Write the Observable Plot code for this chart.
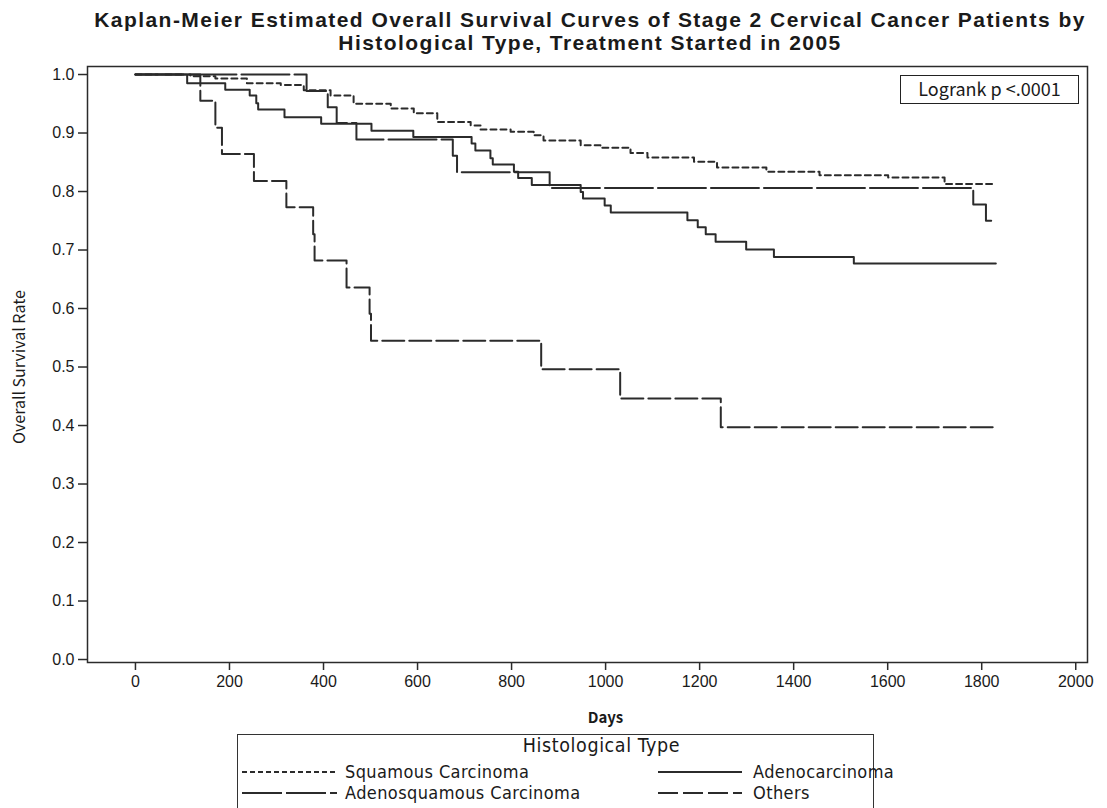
<!DOCTYPE html>
<html>
<head>
<meta charset="utf-8">
<script src="https://cdn.jsdelivr.net/npm/d3@7"></script>
<script src="https://cdn.jsdelivr.net/npm/@observablehq/plot@0.6"></script>
<style>
  html, body { margin: 0; padding: 0; background: #fff; }
  body { width: 1107px; height: 808px; overflow: hidden; position: relative; color: #1a1a1a; }
  #title { position: absolute; top: 8px; left: 73px; width: 1034px; text-align: center;
           font-family: "Liberation Sans", Arial, sans-serif; font-weight: bold; font-size: 21px;
           line-height: 23px; letter-spacing: 1.45px; }
  #chart { position: absolute; top: 58px; left: 0; }
  #ylabel { position: absolute; left: 18px; top: 367px; transform: translate(-50%, -50%) rotate(-90deg);
            white-space: nowrap; font-family: "Noto Sans CJK JP", "Noto Sans", sans-serif; font-size: 16px; line-height: 18px; }
  #logrank { position: absolute; left: 900px; top: 75px; width: 179px; height: 29px; box-sizing: border-box;
             border: 1.5px solid #222; font-family: "Noto Sans CJK JP", "Noto Sans", sans-serif;
             font-size: 18px; line-height: 25px; text-align: center; }
  #legend { position: absolute; left: 237px; top: 734px; width: 637px; height: 90px; box-sizing: border-box;
            border: 1.5px solid #333; font-family: "DejaVu Sans Condensed", "DejaVu Sans", sans-serif;
            font-stretch: condensed; font-size: 18px; letter-spacing: 0.4px; }
  #legend .lt { position: absolute; left: 46px; width: 100%; top: 0px; text-align: center; line-height: 22px;
                font-size: 19.5px; letter-spacing: 0.6px; }
  #legend .item { position: absolute; display: flex; align-items: center; height: 21px; line-height: 21px; white-space: nowrap; }
  #legend svg { display: block; }
</style>
</head>
<body>
<div id="title">Kaplan-Meier Estimated Overall Survival Curves of Stage 2 Cervical Cancer Patients by<br>Histological Type, Treatment Started in 2005</div>
<div id="chart"></div>
<div id="ylabel">Overall Survival Rate</div>
<div id="logrank">Logrank p &lt;.0001</div>
<div id="legend"></div>
<script>
// ---- data ----
const seriesNames = ["Squamous Carcinoma", "Adenocarcinoma", "Adenosquamous Carcinoma", "Others"];

const squamousDays = [0, 117, 170, 237, 309, 358, 415, 464, 543, 592, 642, 713, 734, 798, 847, 868, 947, 989, 1053, 1089, 1188, 1237, 1342, 1455, 1601, 1721, 1830];
const squamousSurv = [1.0, 0.997, 0.993, 0.985, 0.982, 0.973, 0.964, 0.950, 0.942, 0.934, 0.919, 0.913, 0.906, 0.902, 0.896, 0.887, 0.879, 0.875, 0.866, 0.858, 0.851, 0.841, 0.834, 0.828, 0.824, 0.813, 0.813];

const adenoDays = [0, 110, 191, 243, 257, 261, 317, 395, 502, 591, 715, 723, 755, 760, 805, 814, 843, 947, 952, 998, 1011, 1174, 1196, 1213, 1234, 1299, 1358, 1528, 1830];
const adenoSurv = [1.0, 0.985, 0.974, 0.964, 0.951, 0.940, 0.927, 0.916, 0.904, 0.893, 0.882, 0.870, 0.857, 0.846, 0.834, 0.823, 0.811, 0.799, 0.788, 0.776, 0.764, 0.751, 0.739, 0.727, 0.714, 0.701, 0.688, 0.677, 0.677];

const adenosqDays = [0, 364, 409, 428, 470, 675, 684, 881, 1782, 1809, 1830];
const adenosqSurv = [1.0, 0.972, 0.944, 0.917, 0.889, 0.861, 0.833, 0.806, 0.778, 0.750, 0.750];

const othersDays = [0, 138, 170, 184, 252, 321, 378, 381, 449, 498, 501, 863, 1031, 1245, 1830];
const othersSurv = [1.0, 0.955, 0.909, 0.864, 0.818, 0.773, 0.727, 0.682, 0.636, 0.591, 0.545, 0.496, 0.446, 0.397, 0.397];

const xTicks = [0, 200, 400, 600, 800, 1000, 1200, 1400, 1600, 1800, 2000];
const yTicks = [0, 0.1, 0.2, 0.3, 0.4, 0.5, 0.6, 0.7, 0.8, 0.9, 1.0];

// ---- styling ----
const ink = "#2b2b2b";
const dashes = ["6,4", null, "48,5", "22,5"];
const legendDashes = ["5,3", null, "40,4", "20,5"];

const toRows = (name, ds, ss) => ds.map((d, i) => ({type: name, day: d, surv: ss[i]}));
const data = [
  toRows(seriesNames[0], squamousDays, squamousSurv),
  toRows(seriesNames[1], adenoDays, adenoSurv),
  toRows(seriesNames[2], adenosqDays, adenosqSurv),
  toRows(seriesNames[3], othersDays, othersSurv)
];

const lineMarks = data.map((rows, i) => Plot.line(rows, {
  x: "day", y: "surv", curve: "step-after", stroke: ink, strokeWidth: 2,
  strokeDasharray: dashes[i] || undefined
}));

const tickFont = "'Liberation Sans', Arial, sans-serif";
const chart = Plot.plot({
  width: 1107,
  height: 676,
  marginLeft: 87,
  marginRight: 20,
  marginTop: 8,
  marginBottom: 72,
  style: {background: "#fff", color: "#1a1a1a"},
  x: {domain: [-102, 2025]},
  y: {domain: [-0.0051, 1.0137]},
  marks: [
    Plot.axisX({ticks: xTicks, tickFormat: d3.format("d"), label: null, tickSize: 8, tickPadding: 5,
                fontSize: 16, fontFamily: tickFont, stroke: ink, strokeWidth: 1.5}),
    Plot.axisY({ticks: yTicks, tickFormat: d3.format(".1f"), label: null, tickSize: 9, tickPadding: 4,
                fontSize: 16, fontFamily: tickFont, stroke: ink, strokeWidth: 1.5}),
    Plot.text(["Days"], {frameAnchor: "bottom", dx: 18, dy: 60, text: d => d,
                fontSize: 15, fontWeight: "bold", fontFamily: "'Noto Sans CJK JP', sans-serif", fill: "#1a1a1a"}),
    ...lineMarks,
    Plot.frame({stroke: ink, strokeWidth: 1.5})
  ]
});
document.getElementById("chart").appendChild(chart);

// ---- legend ----
const legend = document.getElementById("legend");
legend.innerHTML = '<div class="lt">Histological Type</div>';
const pos = [
  {left: 4, top: 26, w: 95, gap: 8},
  {left: 420, top: 26, w: 84, gap: 11},
  {left: 4, top: 47, w: 95, gap: 8},
  {left: 420, top: 47, w: 84, gap: 11}
];
seriesNames.forEach((name, i) => {
  const p = pos[i];
  const div = document.createElement("div");
  div.className = "item";
  div.style.left = p.left + "px";
  div.style.top = p.top + "px";
  const dash = legendDashes[i] ? ` stroke-dasharray="${legendDashes[i]}"` : "";
  div.innerHTML = `<svg width="${p.w}" height="12" style="margin-right:${p.gap}px"><line x1="0" x2="${p.w}" y1="6" y2="6" stroke="${ink}" stroke-width="2"${dash}/></svg><span>${name}</span>`;
  legend.appendChild(div);
});
</script>
</body>
</html>
